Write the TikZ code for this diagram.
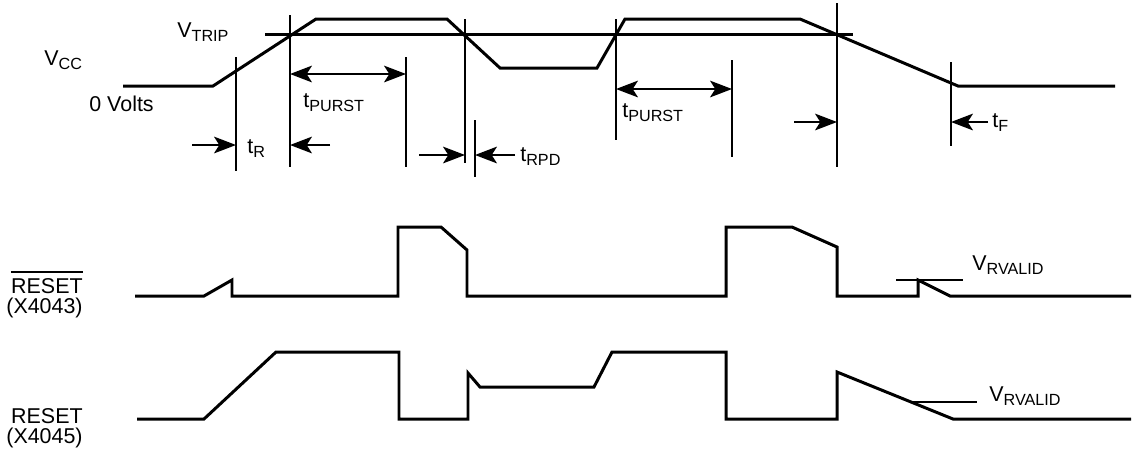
\documentclass[tikz,border=0pt]{standalone}
\usepackage{fontspec}
\setmainfont{Liberation Sans}
\usetikzlibrary{arrows.meta}

% lowered small subscript, as in the data sheet
\newcommand{\subtxt}[1]{\raisebox{-2.8pt}{\fontsize{9.2}{9}\selectfont #1}}

\begin{document}
\begin{tikzpicture}[x=0.02cm, y=-0.02cm,
  >={Stealth[length=12.5pt, width=9.5pt, inset=3pt]},
  wave/.style={line width=1.7pt, line join=miter},
  guide/.style={line width=1.1pt},
  lbl/.style={inner sep=0pt, anchor=base west, font=\fontsize{12.2}{14}\selectfont}]

  \useasboundingbox (0,0) rectangle (1133,458);

  % Levels of the three traces
  \def\vlow{86}     % 0 Volts
  \def\vhigh{19}    % Vcc high
  \def\vtrip{34}    % trip level
  \def\rlow{296}    % RESET (X4043) low
  \def\slow{419}    % RESET (X4045) low

  % Vcc trace
  \draw[wave] (123,\vlow) -- (213,\vlow) -- (316,\vhigh) -- (447,\vhigh) -- (500,68)
    -- (597,68) -- (625,\vhigh) -- (800,\vhigh) -- (958,\vlow) -- (1115,\vlow);

  % Trip level
  \draw[wave] (265,\vtrip) -- (853,\vtrip);

  % Vertical timing marks
  \draw[guide] (236,57) -- (236,171);
  \draw[guide] (290,15) -- (290,167);
  \draw[guide] (406,57) -- (406,167);
  \draw[guide] (465,19) -- (465,163);
  \draw[guide] (475,120) -- (475,177);
  \draw[guide] (616,19) -- (616,140);
  \draw[guide] (732,60) -- (732,157);
  \draw[guide] (837,3) -- (837,167);
  \draw[guide] (951,62) -- (951,146);

  % Ends of the dimension arrows
  \coordinate (R0) at (192,145);
  \coordinate (R1) at (236,145);
  \coordinate (R2) at (290,145);
  \coordinate (R3) at (330,145);
  \coordinate (P1) at (290,74);
  \coordinate (P2) at (406,74);
  \coordinate (D0) at (419,155);
  \coordinate (D1) at (465,155);
  \coordinate (D2) at (475,155);
  \coordinate (D3) at (515,155);
  \coordinate (Q1) at (616,89);
  \coordinate (Q2) at (732,89);
  \coordinate (F0) at (794,122);
  \coordinate (F1) at (837,122);
  \coordinate (F2) at (951,122);
  \coordinate (F3) at (988,122);

  % Dimension arrows
  \draw[->, guide] (R0) -- (R1);
  \draw[->, guide] (R3) -- (R2);
  \draw[<->, guide] (P1) -- (P2);
  \draw[->, guide] (D0) -- (D1);
  \draw[->, guide] (D3) -- (D2);
  \draw[<->, guide] (Q1) -- (Q2);
  \draw[->, guide] (F0) -- (F1);
  \draw[->, guide] (F3) -- (F2);

  % RESET (X4043), active low
  \draw[wave] (135,\rlow) -- (204,\rlow) -- (232,280) -- (232,\rlow) -- (398,\rlow)
    -- (398,227) -- (441,227) -- (467,250) -- (467,\rlow) -- (726,\rlow) -- (726,227)
    -- (792,227) -- (837,247) -- (837,\rlow) -- (918,\rlow) -- (918,280) -- (950,\rlow)
    -- (1131,\rlow);
  \draw[guide] (896,280) -- (963,280);

  % RESET (X4045), active high
  \draw[wave] (137,\slow) -- (204,\slow) -- (276,352) -- (399,352) -- (399,\slow)
    -- (468,\slow) -- (468,373) -- (480,387) -- (594,387) -- (612,352) -- (726,352)
    -- (726,\slow) -- (837,\slow) -- (837,372) -- (953,\slow) -- (1131,\slow);
  \draw[guide] (910,402) -- (977,402);

  % Labels
  \node[lbl] (vcc) at (44,65) {V\subtxt{CC}};
  \node[lbl] (trip) at (177,37) {V\subtxt{TRIP}};
  \node[lbl] (zero) at (89,111) {0 Volts};
  \node[lbl] (tr) at (247,153) {t\subtxt{R}};
  \node[lbl] (purst1) at (303,107) {t\subtxt{PURST}};
  \node[lbl] (rpd) at (520,161) {t\subtxt{RPD}};
  \node[lbl] (purst2) at (622,117) {t\subtxt{PURST}};
  \node[lbl] (tf) at (992,127) {t\subtxt{F}};
  \node[lbl] (valid1) at (972,270) {V\subtxt{RVALID}};
  \node[lbl] (valid2) at (989,401) {V\subtxt{RVALID}};

  \node[lbl, anchor=base east] (rbar) at (83,293) {RESET};
  \draw[guide] ([yshift=3pt]rbar.north west) -- ([yshift=3pt]rbar.north east);
  \node[lbl, anchor=base east] (rbarpart) at (83,313) {(X4043)};
  \node[lbl, anchor=base east] (rst) at (83,423) {RESET};
  \node[lbl, anchor=base east] (rstpart) at (83,443) {(X4045)};

\end{tikzpicture}
\end{document}
